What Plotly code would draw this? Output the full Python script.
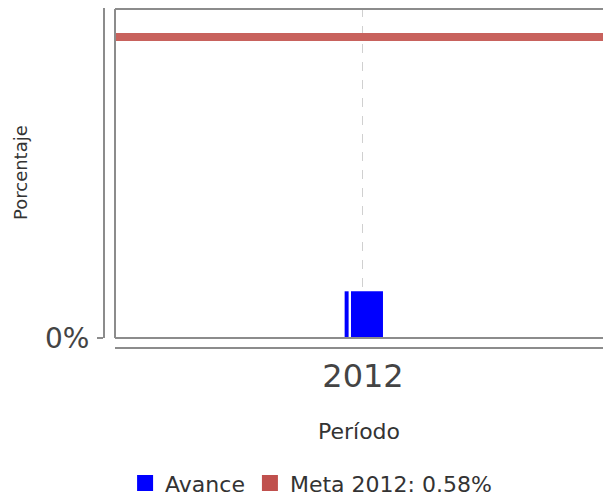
import plotly.graph_objects as go

# Data
periods = [2012]
avance_values = [0.09]
meta_value = 0.58
meta_label = "Meta 2012: 0.58%"
avance_label = "Avance"
y_tick_vals = [0]
y_tick_text = ["0%"]
x_tick_text = ["2012"]

W, H = 603, 499
ml, mr, mt, mb = 104, 0, 8, 151
pw = W - ml - mr
ph = H - mt - mb

x_range = [2011.5, 2012.4839]
y_range = [0, 0.636]

fig = go.Figure()

# thin sliver bar and main bar (same series)
fig.add_trace(go.Bar(x=periods, y=avance_values, width=0.008, offset=-0.037,
                     marker=dict(color="#0000ff", line=dict(width=0)),
                     showlegend=False, hoverinfo="skip"))
fig.add_trace(go.Bar(x=periods, y=avance_values, width=0.0645, offset=-0.0242,
                     marker=dict(color="#0000ff", line=dict(width=0)),
                     name=avance_label, showlegend=False))

# Meta line
fig.add_trace(go.Scatter(x=x_range, y=[meta_value, meta_value], mode="lines",
                         line=dict(color="#c8625d", width=8),
                         name=meta_label, showlegend=False))

# legend proxies (no drawn marks)
fig.add_trace(go.Scatter(x=[None], y=[None], mode="markers", name=avance_label,
                         marker=dict(symbol="square", size=20, color="#0000ff")))
fig.add_trace(go.Scatter(x=[None], y=[None], mode="markers", name=meta_label,
                         marker=dict(symbol="square", size=20, color="#c0504d")))

fig.update_layout(
    width=W, height=H,
    margin=dict(l=ml, r=mr, t=mt, b=mb, pad=0, autoexpand=False),
    paper_bgcolor="white", plot_bgcolor="white",
    barmode="overlay",
    font=dict(family="DejaVu Sans", color="#333333"),
    legend=dict(orientation="h", x=0.415, xanchor="center", y=-0.398, yanchor="middle",
                font=dict(size=22, color="#333333"), itemsizing="trace",
                tracegroupgap=0, itemwidth=30),
    xaxis=dict(
        domain=[11 / pw, 1], range=x_range, anchor="free", position=0,
        automargin=False,
        tickvals=periods, ticktext=x_tick_text, ticks="",
        tickfont=dict(size=32, color="#444444"),
        showline=True, linecolor="#8c8c8c", linewidth=2,
        showgrid=True, gridcolor="#d0d0d0", griddash="dash", gridwidth=1,
        zeroline=False,
        title=dict(text="Período", font=dict(size=22, color="#333333"), standoff=28),
    ),
    yaxis=dict(
        domain=[10 / ph, 1], range=y_range, anchor="free", position=0,
        automargin=False,
        tickvals=y_tick_vals, ticktext=y_tick_text, ticks="outside", ticklen=6,
        tickcolor="#8c8c8c", tickwidth=2,
        tickfont=dict(size=28, color="#444444"), ticklabelstandoff=2,
        showline=True, linecolor="#8c8c8c", linewidth=2,
        showgrid=False, zeroline=False,
    ),
    annotations=[dict(text="Porcentaje", textangle=-90, xref="paper", yref="y domain",
                      x=-84 / pw, y=0.5, xanchor="center", yanchor="middle",
                      showarrow=False, font=dict(size=18, color="#333333"))],
)

# plot frame (left, top, bottom of the inner box)
frame_style = dict(color="#8c8c8c", width=2)
fig.add_shape(type="line", xref="x domain", yref="y domain", x0=0, x1=0, y0=0, y1=0.997, line=frame_style)
fig.add_shape(type="line", xref="x domain", yref="y domain", x0=0, x1=1, y0=0.997, y1=0.997, line=frame_style)
fig.add_shape(type="line", xref="x domain", yref="y domain", x0=0, x1=1, y0=0, y1=0, line=frame_style)

fig.write_html("out.html", config={"displayModeBar": False},
               post_script="document.body.style.margin='0';document.body.style.overflow='hidden';")
